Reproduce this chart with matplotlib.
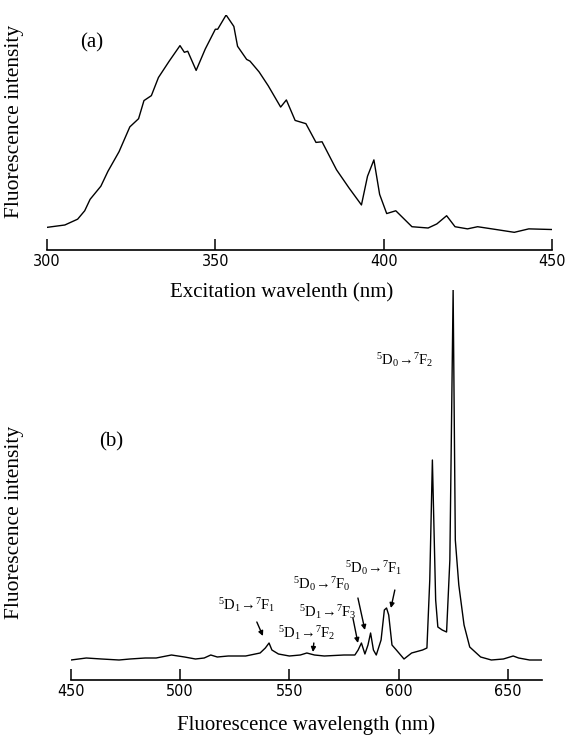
import matplotlib
matplotlib.use("Agg")
import matplotlib.pyplot as plt
from matplotlib import font_manager

# ---------------- data ----------------
# (a) excitation spectrum
exc_wl = [300, 305.3, 309.1, 311.2, 312.8, 316.0, 318.1, 321.4, 324.6, 327.2, 328.8, 331.0,
          333.1, 336.3, 339.5, 340.8, 341.8, 344.3, 347.0, 350.0, 350.7, 353.2, 355.5, 356.6,
          359.3, 360.3, 363.0, 365.7, 369.4, 371.1, 373.7, 376.9, 379.9, 381.7, 386.0, 389.7,
          393.4, 395.2, 397.1, 398.8, 400.9, 403.6, 408.4, 413.2, 415.8, 418.7, 421.2, 424.9,
          427.9, 433.4, 438.8, 443.1, 450]
exc_int = [1.5, 2.6, 5.3, 9.2, 14.5, 20.6, 27.5, 36.6, 48.1, 51.9, 60.3, 62.6,
           71.0, 78.6, 85.8, 82.7, 83.2, 74.3, 84.2, 93.4, 93.4, 100.0, 94.7, 85.5,
           79.4, 78.6, 73.6, 67.2, 57.3, 60.6, 51.1, 49.6, 40.9, 41.2, 28.2, 19.8,
           11.9, 25.2, 32.8, 16.8, 7.9, 9.2, 1.8, 1.2, 3.1, 6.9, 1.8, 0.8,
           1.8, 0.5, -0.8, 0.8, 0.5]

# (b) emission spectrum
em_wl = [450, 457, 464, 472, 477, 484, 489, 496, 502, 507, 511, 514, 517, 522, 530, 536.6,
         539, 540.7, 542, 545, 550, 555, 558, 561.5, 566, 575, 580, 581.5, 583, 584.6, 586,
         587.2, 588.5, 589.8, 592, 593.5, 594.5, 595.5, 597, 599, 602.5, 606, 611, 613, 614.3,
         615.5, 617, 618, 620, 622, 623.5, 625, 626, 627.6, 630, 632.6, 637.6, 642.5, 648,
         652.5, 655, 660, 665.7]
em_int = [0, 2, 1, 0, 1, 2, 2, 5, 3, 1, 2, 5, 3, 4, 4, 7,
          12, 17, 10, 6, 4, 5, 7, 5, 4, 5, 5, 10, 17, 6, 15,
          27, 10, 5, 20, 50, 52, 45, 15, 10, 1, 7, 10, 12, 80,
          200, 60, 33, 30, 28, 100, 370, 120, 75, 35, 13, 3, 0, 1,
          4, 2, 0, 0]

exc_ticks = [300, 350, 400, 450]
em_ticks = [450, 500, 550, 600, 650]

labels = [r"$^{5}\mathrm{D}_{1}\!{\rightarrow}\!{}^{7}\mathrm{F}_{1}$",
          r"$^{5}\mathrm{D}_{1}\!{\rightarrow}\!{}^{7}\mathrm{F}_{2}$",
          r"$^{5}\mathrm{D}_{1}\!{\rightarrow}\!{}^{7}\mathrm{F}_{3}$",
          r"$^{5}\mathrm{D}_{0}\!{\rightarrow}\!{}^{7}\mathrm{F}_{0}$",
          r"$^{5}\mathrm{D}_{0}\!{\rightarrow}\!{}^{7}\mathrm{F}_{1}$",
          r"$^{5}\mathrm{D}_{0}\!{\rightarrow}\!{}^{7}\mathrm{F}_{2}$"]
# text position (nm, intensity), arrow tail, arrow head
label_xy = [(530.5, 55), (558, 27), (567.6, 48), (564.9, 76), (588.7, 92), (603, 300)]
arrow_tail = [(535.1, 38), (561.2, 17), (579.1, 42), (581.4, 62), (598.3, 70), None]
arrow_head = [(537.9, 24), (560.8, 8), (581.4, 17), (584.6, 30), (596.5, 52), None]

# ---------------- fonts ----------------
plt.rcParams['mathtext.fontset'] = 'custom'
plt.rcParams['mathtext.rm'] = 'Liberation Serif'
plt.rcParams['mathtext.it'] = 'Liberation Serif'
plt.rcParams['mathtext.bf'] = 'Liberation Serif'

serif = ['Liberation Serif', 'DejaVu Serif']

narrow_prop = None
paths = [f.fname for f in font_manager.fontManager.ttflist]
for key in ['LiberationSansNarrow-Regular', 'DejaVuSansCondensed.', 'Condensed-Regular',
            'Condensed', 'Narrow']:
    hits = [p for p in paths if key in p and 'Bold' not in p and 'Oblique' not in p
            and 'Italic' not in p]
    if hits:
        narrow_prop = font_manager.FontProperties(fname=sorted(hits)[0], size=11.5)
        break
if narrow_prop is None:
    narrow_prop = font_manager.FontProperties(family='Liberation Sans', size=11)

# ---------------- figure ----------------
W, H = 567, 736
fig = plt.figure(figsize=(W / 100, H / 100), dpi=100)


def px_axes(x0, x1, y_top, y_bot):
    ax = fig.add_axes([x0 / W, 1 - y_bot / H, (x1 - x0) / W, (y_bot - y_top) / H])
    ax.patch.set_alpha(0)
    return ax


def style(ax, ticks, xlim):
    for s in ['left', 'right', 'top']:
        ax.spines[s].set_visible(False)
    ax.spines['bottom'].set_linewidth(1.2)
    ax.set_yticks([])
    ax.set_xticks(ticks)
    ax.set_xlim(*xlim)
    ax.tick_params(axis='x', direction='in', length=8, width=1.1, pad=3)
    for t in ax.get_xticklabels():
        t.set_fontproperties(narrow_prop)


# (a)
ax1 = px_axes(47, 552, 15, 250)
ax1.plot(exc_wl, exc_int, color='black', lw=1.0)
ax1.set_ylim(-9, 100)
style(ax1, exc_ticks, (300, 450))
ax1.set_xlabel('Excitation wavelenth (nm)', family=serif, fontsize=15, va='center')
ax1.xaxis.set_label_coords(0.465, -0.183)
ax1.set_ylabel('Fluorescence intensity', family=serif, fontsize=15.5)
ax1.yaxis.set_label_coords(-0.045, 0.545)
ax1.text(0.066, 0.88, '(a)', transform=ax1.transAxes, family=serif, fontsize=15,
         va='center')

# (b)
ax2 = px_axes(71, 542, 290, 680)
ax2.plot(em_wl, em_int, color='black', lw=1.0)
ax2.set_ylim(-20, 370)
style(ax2, em_ticks, (450, 665.7))
ax2.set_xlabel('Fluorescence wavelength (nm)', family=serif, fontsize=15, va='center')
ax2.xaxis.set_label_coords(0.5, -0.115)
ax2.set_ylabel('Fluorescence intensity', family=serif, fontsize=15.5)
ax2.yaxis.set_label_coords(-0.1, 0.405)
ax2.text(0.06, 0.6, '(b)', transform=ax2.transAxes, family=serif, fontsize=15)

for lab, xy, tail, head in zip(labels, label_xy, arrow_tail, arrow_head):
    ax2.text(xy[0], xy[1], lab, ha='center', va='center', fontsize=10.5, family=serif)
    if tail is not None:
        ax2.annotate('', xy=head, xytext=tail,
                     arrowprops=dict(arrowstyle='-|>', color='black', lw=1.0,
                                     mutation_scale=7, shrinkA=0, shrinkB=0))

fig.savefig('out.png', dpi=100)
